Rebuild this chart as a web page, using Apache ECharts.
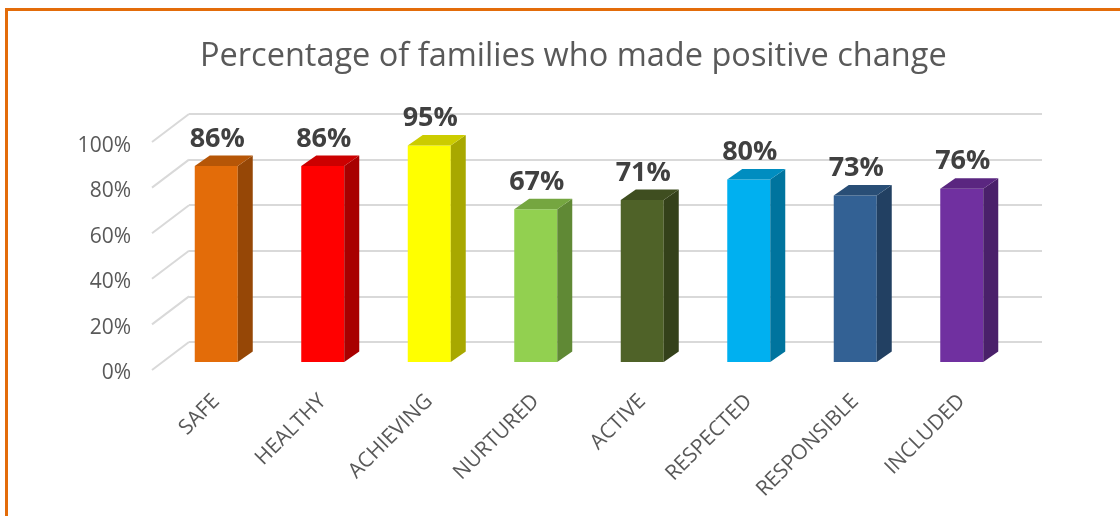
<!DOCTYPE html>
<html>
<head>
<meta charset="utf-8">
<script src="https://cdn.jsdelivr.net/npm/echarts@6/dist/echarts.min.js"></script>
<style>
  html, body { margin: 0; padding: 0; background: #fff; }
  #frame {
    position: absolute; left: 5px; top: 8px; width: 1115px; height: 508px;
    border-top: 3px solid #E36C0A; border-left: 3px solid #E36C0A;
  }
  #chart { position: absolute; left: 0; top: 0; width: 1120px; height: 516px; }
</style>
</head>
<body>
<div id="frame"></div>
<div id="chart"></div>
<script>
// data
const categories = ['SAFE', 'HEALTHY', 'ACHIEVING', 'NURTURED', 'ACTIVE', 'RESPECTED', 'RESPONSIBLE', 'INCLUDED'];
const values = [86, 86, 95, 67, 71, 80, 73, 76];
const gridTicks = [0, 20, 40, 60, 80, 100];

// front face colours, one per bar
const barColors = ['#E36C09', '#FF0000', '#FFFF00', '#92D050', '#4F6228', '#00B0F0', '#336194', '#7030A0'];

const shade = (hex, f) => {
  const n = parseInt(hex.slice(1), 16);
  const r = Math.round(((n >> 16) & 255) * f);
  const g = Math.round(((n >> 8) & 255) * f);
  const b = Math.round((n & 255) * f);
  return `rgb(${r},${g},${b})`;
};

const chart = echarts.init(document.getElementById('chart'));

const font = '"Open Sans", "Noto Sans", sans-serif';
const textGray = '#595959';
const lineGray = '#D9D9D9';

// 3d box depth (px)
const depthX = 15, depthY = 10.5, barW = 43;
// diagonal wall lines, from back wall to the front edge
const wallX = 37, wallY = 28;

const option = {
  animation: false,
  title: {
    text: 'Percentage of families who made positive change',
    left: 195,
    top: 35,
    textStyle: { fontFamily: font, fontSize: 32.5, fontWeight: 'normal', color: textGray }
  },
  grid: [
    // 0: back wall
    { left: 189, right: 78, top: 114, bottom: 174 },
    // 1: front edge (y labels)
    { left: 152, right: 115, top: 146, bottom: 143 },
    // 2: plane where the bars stand
    { left: 163, right: 105, top: 134, bottom: 154 }
  ],
  xAxis: [
    { gridIndex: 0, type: 'value', min: 0, max: 1, show: false },
    { gridIndex: 1, type: 'value', min: 0, max: 1, show: false },
    {
      gridIndex: 2, type: 'category', data: categories,
      axisLine: { show: false }, axisTick: { show: false },
      axisLabel: {
        rotate: 45, margin: 36, interval: 0,
        fontFamily: font, fontSize: 21, color: textGray
      }
    }
  ],
  yAxis: [
    {
      gridIndex: 0, type: 'value', min: 0, max: 100, interval: 20,
      axisLabel: { show: false }, axisLine: { show: false }, axisTick: { show: false },
      splitLine: { lineStyle: { color: lineGray, width: 2 } }
    },
    {
      gridIndex: 1, type: 'value', min: 0, max: 100, interval: 20,
      axisLine: { show: false }, axisTick: { show: false }, splitLine: { show: false },
      axisLabel: { formatter: '{value}%', margin: 21, fontFamily: font, fontSize: 21, color: textGray }
    },
    { gridIndex: 2, type: 'value', min: 0, max: 100, show: false }
  ],
  series: [
    {
      type: 'custom',
      xAxisIndex: 0, yAxisIndex: 0,
      data: gridTicks.map(v => [0, v]),
      silent: true,
      renderItem: (params, api) => {
        const p = api.coord([0, api.value(1)]);
        return {
          type: 'line',
          shape: { x1: p[0], y1: p[1], x2: p[0] - wallX, y2: p[1] + wallY },
          style: { stroke: lineGray, lineWidth: 2 }
        };
      }
    },
    {
      type: 'custom',
      xAxisIndex: 2, yAxisIndex: 2,
      data: values.map((v, i) => [i, v]),
      z: 5,
      renderItem: (params, api) => {
        const i = api.value(0);
        const v = api.value(1);
        const base = api.coord([i, 0]);
        const top = api.coord([i, v]);
        const x = base[0] - barW / 2;
        const c = barColors[i];
        return {
          type: 'group',
          children: [
            {
              type: 'rect',
              shape: { x: x, y: top[1], width: barW, height: base[1] - top[1] },
              style: { fill: c }
            },
            {
              type: 'polygon',
              shape: { points: [[x + barW, top[1]], [x + barW + depthX, top[1] - depthY], [x + barW + depthX, base[1] - depthY], [x + barW, base[1]]] },
              style: { fill: shade(c, 0.66) }
            },
            {
              type: 'polygon',
              shape: { points: [[x, top[1]], [x + depthX, top[1] - depthY], [x + barW + depthX, top[1] - depthY], [x + barW, top[1]]] },
              style: { fill: shade(c, 0.8) }
            },
            {
              type: 'text',
              x: base[0] + 1,
              y: top[1] - depthY - 3,
              style: {
                text: v + '%',
                align: 'center', verticalAlign: 'bottom',
                fontFamily: font, fontSize: 27, fontWeight: 'bold', fill: '#404040'
              }
            }
          ]
        };
      }
    }
  ]
};

chart.setOption(option);
</script>
</body>
</html>
